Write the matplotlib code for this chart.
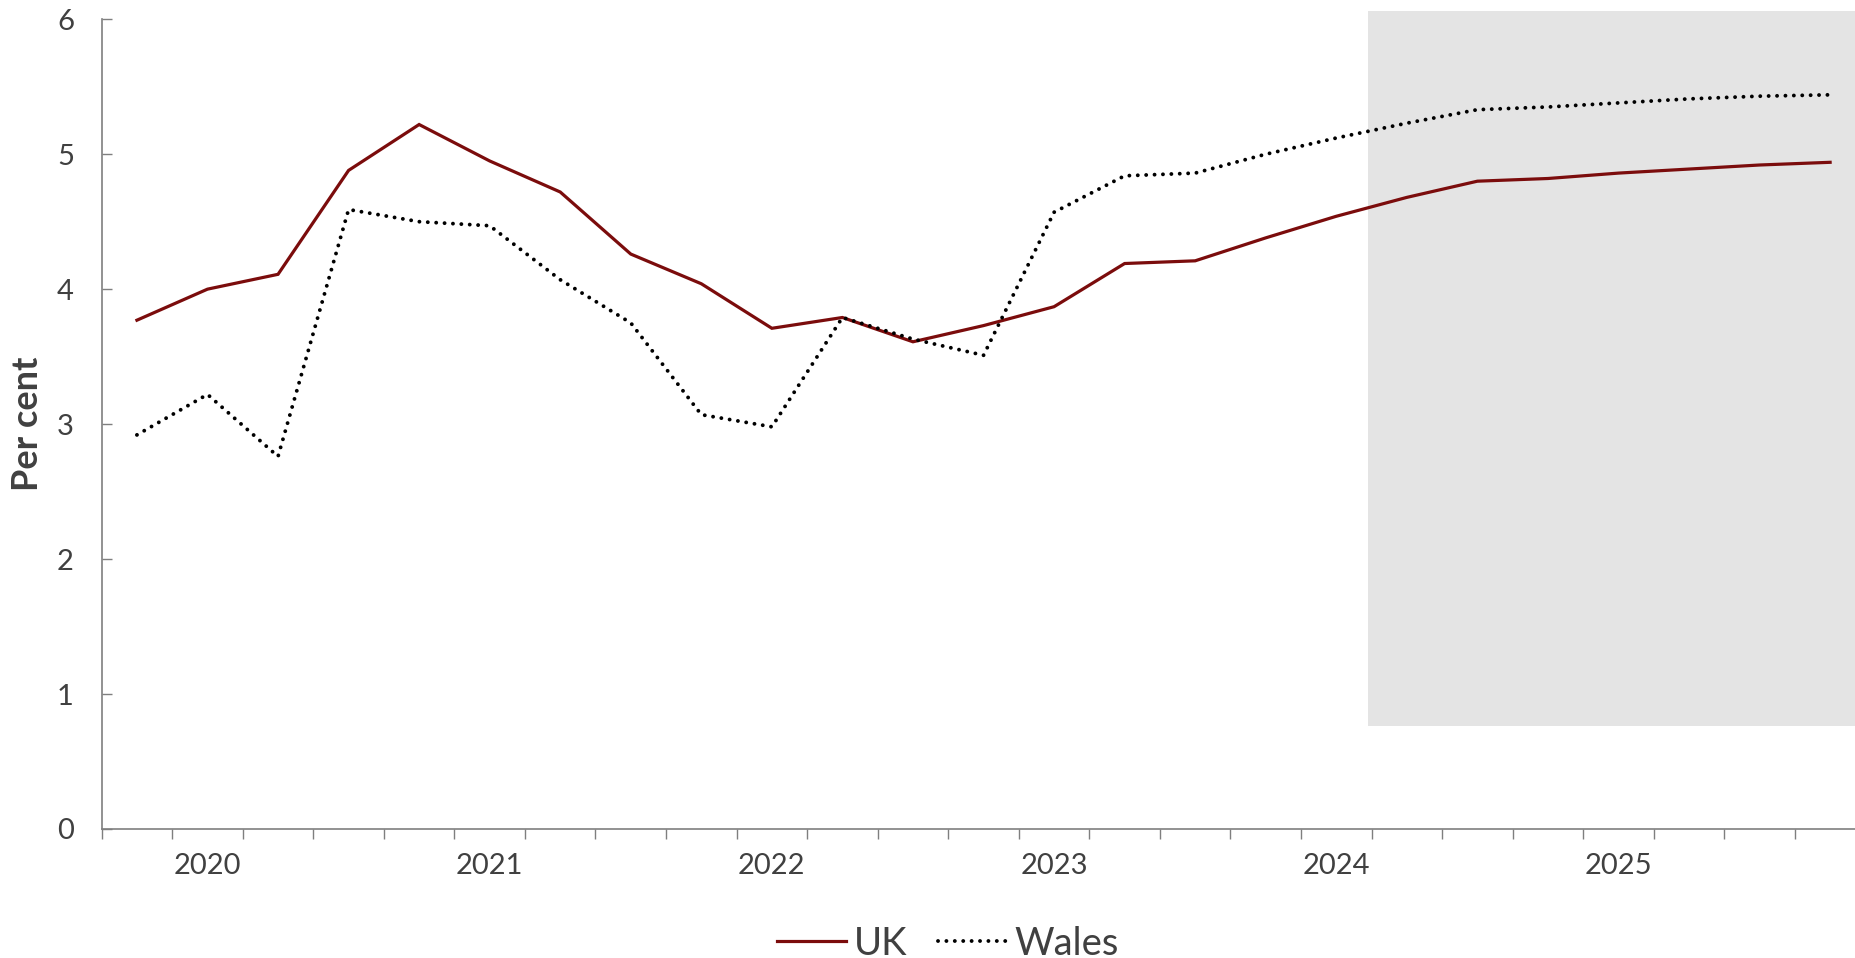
import matplotlib
matplotlib.use("Agg")
import matplotlib.pyplot as plt
from matplotlib.patches import Rectangle
from matplotlib.lines import Line2D

plt.rcParams['font.family'] = ['Lato', 'DejaVu Sans']

# quarterly, 2019 Q4 .. 2025 Q4
quarters = list(range(25))
uk = [3.77, 4.00, 4.11, 4.88, 5.22, 4.95, 4.72, 4.26, 4.04, 3.71,
      3.79, 3.61, 3.73, 3.87, 4.19, 4.21, 4.38, 4.54, 4.68, 4.80,
      4.82, 4.86, 4.89, 4.92, 4.94]
wales = [2.92, 3.22, 2.76, 4.59, 4.50, 4.47, 4.07, 3.75, 3.07, 2.98,
         3.79, 3.63, 3.51, 4.57, 4.84, 4.86, 5.00, 5.12, 5.23, 5.33,
         5.35, 5.38, 5.41, 5.43, 5.44]
year_labels = ['2020', '2021', '2022', '2023', '2024', '2025']
year_pos = [1, 5, 9, 13, 17, 21]

text_col = '#404040'
axis_col = '#7f7f7f'
uk_col = '#7b0c0c'

fig = plt.figure(figsize=(18.55, 9.58), dpi=100)
ax = fig.add_axes([0.0548, 0.1347, 0.9508, 0.8452])

# forecast shading
ax.add_patch(Rectangle((17.45, 0.763), 8.0, 5.3, facecolor='#e4e4e4',
                       edgecolor='none', clip_on=False, zorder=0))

ax.plot(quarters, uk, color=uk_col, lw=2.3, solid_joinstyle='miter', zorder=3)
ax.plot(quarters, wales, color='black', lw=2.8, linestyle=(0, (0.01, 2.15)),
        dash_capstyle='round', zorder=3)

ax.set_xlim(-0.5, 24.5)
ax.set_ylim(0, 6)
ax.set_yticks(range(0, 7))
ax.set_xticks([q - 0.5 for q in range(26)])
ax.set_xticklabels([])
ax.set_xticks(year_pos, minor=True)
ax.set_xticklabels(year_labels, minor=True)

for s in ['top', 'right']:
    ax.spines[s].set_visible(False)
for s in ['left', 'bottom']:
    ax.spines[s].set_color(axis_col)
    ax.spines[s].set_linewidth(1.2)

ax.tick_params(axis='y', direction='in', length=7, width=1, color=axis_col,
               labelsize=21, labelcolor=text_col, pad=20)
ax.tick_params(axis='x', which='major', direction='out', length=7, width=1,
               color=axis_col)
ax.tick_params(axis='x', which='minor', length=0, labelsize=21,
               labelcolor=text_col, pad=17)

ax.set_ylabel('Per cent', fontsize=26, fontweight='bold', color=text_col,
              labelpad=9)

handles = [Line2D([], [], color=uk_col, lw=2.3),
           Line2D([], [], color='black', lw=2.8, linestyle=(0, (0.01, 2.15)),
                  dash_capstyle='round')]
fig.legend(handles, ['UK', 'Wales'], loc='center', bbox_to_anchor=(0.511, 0.015),
           ncol=2, frameon=False, fontsize=27.5, labelcolor=text_col,
           handlelength=1.8, handletextpad=0.2, columnspacing=0.8)

fig.savefig('out.png', dpi=100)
